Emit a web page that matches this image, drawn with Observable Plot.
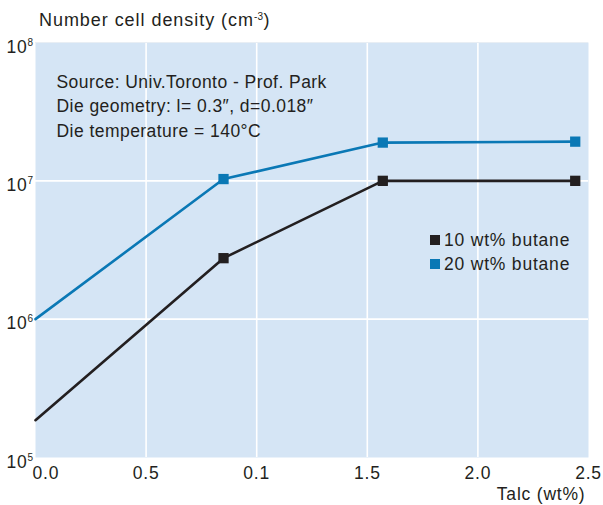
<!DOCTYPE html>
<html>
<head>
<meta charset="utf-8">
<script src="https://cdn.jsdelivr.net/npm/d3@7"></script>
<script src="https://cdn.jsdelivr.net/npm/@observablehq/plot@0.6"></script>
<style>
  html, body { margin: 0; padding: 0; background: #ffffff; }
  #wrap { position: relative; width: 603px; height: 505px; font-family: "Liberation Sans", Arial, sans-serif; color: #231f20; }
  #title { position: absolute; left: 39px; top: 12px; font-size: 18px; line-height: 17px; letter-spacing: 0.95px; white-space: nowrap; }
  #title .sup { font-size: 10px; position: relative; top: -6px; letter-spacing: 0.3px; }
  #legend { position: absolute; left: 430px; top: 228px; font-size: 17.5px; letter-spacing: 0.8px; }
  #legend .row { display: flex; align-items: center; height: 24px; white-space: nowrap; }
  #legend .sw { width: 10px; height: 10px; margin-right: 4px; }
  svg { display: block; }
</style>
</head>
<body>
<div id="wrap">
  <div id="chart"></div>
  <div id="title">Number cell density (cm<span class="sup">-3</span>)</div>
  <div id="legend"></div>
</div>
<script>
// ---- data ----
const talc = [0, 0.85, 1.57, 2.44];
const butane10 = [1.86e5, 2.76e6, 1.0e7, 1.0e7];
const butane20 = [1.0e6, 1.03e7, 1.89e7, 1.92e7];
const markerShown = [false, true, true, true];
const seriesNames = ["10 wt% butane", "20 wt% butane"];
const seriesColors = ["#231f20", "#0a78b5"];
const xTicks = [0, 0.5, 1.0, 1.5, 2.0, 2.5];
const xTickLabels = ["0.0", "0.5", "0.1", "1.5", "2.0", "2.5"];
const yTicks = [1e5, 1e6, 1e7, 1e8];
const yTickBase = ["10", "10", "10", "10"];
const yTickExp = ["5", "6", "7", "8"];
const notes = ["Source: Univ.Toronto - Prof. Park", "Die geometry: l= 0.3\u2033, d=0.018\u2033", "Die temperature = 140°C"];
const xLabel = "Talc (wt%)";

// ---- tidy table ----
const rows = [];
[butane10, butane20].forEach((vals, s) => {
  vals.forEach((v, i) => rows.push({ series: seriesNames[s], talc: talc[i], density: v, marker: markerShown[i] }));
});

const font = "Liberation Sans, Arial, sans-serif";
const ink = "#231f20";
const fs = 17.5;

const chart = Plot.plot({
  width: 603,
  height: 505,
  marginLeft: 35,
  marginRight: 15,
  marginTop: 42,
  marginBottom: 48,
  style: { fontFamily: font, background: "#ffffff", overflow: "visible", letterSpacing: "0.8px" },
  x: { domain: [0, 2.5], axis: null },
  y: { type: "log", domain: [1e5, 1e8], axis: null },
  color: { domain: seriesNames, range: seriesColors },
  marks: [
    Plot.frame({ fill: "#d5e5f5", stroke: null }),
    Plot.gridX(xTicks.slice(1, -1), { stroke: "#ffffff", strokeOpacity: 1, strokeWidth: 1.6 }),
    Plot.gridY(yTicks.slice(1, -1), { stroke: "#ffffff", strokeOpacity: 1, strokeWidth: 1.6 }),
    Plot.ruleY([yTicks[yTicks.length - 1]], { stroke: "#e8eef4", strokeWidth: 1 }),
    Plot.line(rows, { x: "talc", y: "density", z: "series", stroke: "series", strokeWidth: 2.6 }),
    Plot.dot(rows.filter(d => d.marker), { x: "talc", y: "density", fill: "series", symbol: "square", r: 5.8, stroke: null }),
    // notes
    Plot.text([notes.join("\n")], {
      frameAnchor: "top-left", text: d => d, textAnchor: "start", lineAnchor: "top",
      dx: 21, dy: 28, lineHeight: 1.4, fontSize: fs, fill: ink, className: "notes"
    }),
    // y tick labels
    Plot.text(yTicks, { y: d => d, frameAnchor: "left", text: (d, i) => yTickBase[i], textAnchor: "end", dx: -8, dy: 4.5, fontSize: fs, fill: ink }),
    Plot.text(yTicks, { y: d => d, frameAnchor: "left", text: (d, i) => yTickExp[i], textAnchor: "start", dx: -8, dy: 0, fontSize: 10, fill: ink }),
    // x tick labels
    Plot.text(xTicks.slice(0, 1), { x: d => d, frameAnchor: "bottom", text: (d, i) => xTickLabels[i], textAnchor: "start", lineAnchor: "top", dx: -3, dy: 9, fontSize: fs, fill: ink }),
    Plot.text(xTicks.slice(1), { x: d => d, frameAnchor: "bottom", text: (d, i) => xTickLabels[i + 1], textAnchor: "middle", lineAnchor: "top", dy: 9, fontSize: fs, fill: ink }),
    // x axis label
    Plot.text([xLabel], { frameAnchor: "bottom-right", text: d => d, textAnchor: "end", lineAnchor: "top", dx: -3, dy: 30, fontSize: fs, fill: ink })
  ]
});
chart.querySelectorAll(".notes").forEach(g => g.style.letterSpacing = "0.45px");
document.getElementById("chart").appendChild(chart);

// legend
const legend = document.getElementById("legend");
seriesNames.forEach((name, i) => {
  const row = document.createElement("div");
  row.className = "row";
  const sw = document.createElement("span");
  sw.className = "sw";
  sw.style.background = seriesColors[i];
  const label = document.createElement("span");
  label.textContent = name;
  row.appendChild(sw);
  row.appendChild(label);
  legend.appendChild(row);
});
</script>
</body>
</html>
